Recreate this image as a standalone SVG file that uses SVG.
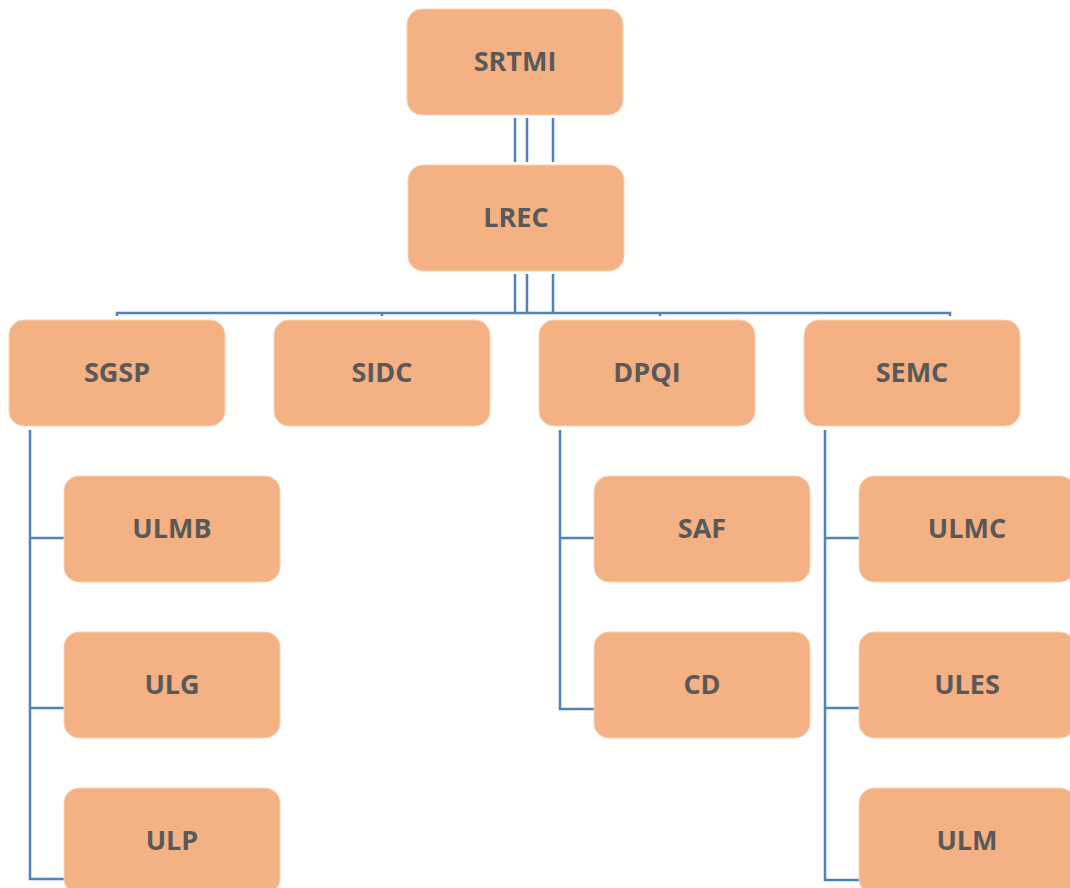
<svg xmlns="http://www.w3.org/2000/svg" width="1070" height="888" viewBox="0 0 1070 888">
<style>
.box{fill:#F4B183;stroke:#F8D2B4;stroke-width:1}
.lbl{font-family:"Open Sans","Noto Sans",sans-serif;font-weight:bold;font-size:27px;fill:#595959;text-anchor:middle;dominant-baseline:central}
.ln{fill:none;stroke:#4F81BD;stroke-width:2.5}
</style>
<rect width="1070" height="888" fill="#fff"/>
<g id="connectors">
<path class="ln" d="M515,118V162M527,118V162M553,118V162"/>
<path class="ln" d="M515,274V313M527,274V313M553,274V313"/>
<path class="ln" d="M117,316V313H950V316M382,313V316M660,313V316"/>
<path class="ln" d="M30,430V879H64M30,538H64M30,708H64"/>
<path class="ln" d="M560,430V709H594M560,538H594"/>
<path class="ln" d="M825,430V880H859M825,538H859M825,708H859"/>
</g>
<g id="SRTMI"><rect class="box" x="407" y="9" width="216" height="106" rx="15"/><text class="lbl" x="515" y="60">SRTMI</text></g>
<g id="LREC"><rect class="box" x="408" y="165" width="216" height="106" rx="15"/><text class="lbl" x="516" y="216">LREC</text></g>
<g id="SGSP"><rect class="box" x="9" y="320" width="216" height="106" rx="15"/><text class="lbl" x="117" y="371">SGSP</text></g>
<g id="SIDC"><rect class="box" x="274" y="320" width="216" height="106" rx="15"/><text class="lbl" x="382" y="371">SIDC</text></g>
<g id="DPQI"><rect class="box" x="539" y="320" width="216" height="106" rx="15"/><text class="lbl" x="647" y="371">DPQI</text></g>
<g id="SEMC"><rect class="box" x="804" y="320" width="216" height="106" rx="15"/><text class="lbl" x="912" y="371">SEMC</text></g>
<g id="ULMB"><rect class="box" x="64" y="476" width="216" height="106" rx="15"/><text class="lbl" x="172" y="527">ULMB</text></g>
<g id="ULG"><rect class="box" x="64" y="632" width="216" height="106" rx="15"/><text class="lbl" x="172" y="683">ULG</text></g>
<g id="ULP"><rect class="box" x="64" y="788" width="216" height="106" rx="15"/><text class="lbl" x="172" y="839">ULP</text></g>
<g id="SAF"><rect class="box" x="594" y="476" width="216" height="106" rx="15"/><text class="lbl" x="702" y="527">SAF</text></g>
<g id="CD"><rect class="box" x="594" y="632" width="216" height="106" rx="15"/><text class="lbl" x="702" y="683">CD</text></g>
<g id="ULMC"><rect class="box" x="859" y="476" width="216" height="106" rx="15"/><text class="lbl" x="967" y="527">ULMC</text></g>
<g id="ULES"><rect class="box" x="859" y="632" width="216" height="106" rx="15"/><text class="lbl" x="967" y="683">ULES</text></g>
<g id="ULM"><rect class="box" x="859" y="788" width="216" height="106" rx="15"/><text class="lbl" x="967" y="839">ULM</text></g>
</svg>
